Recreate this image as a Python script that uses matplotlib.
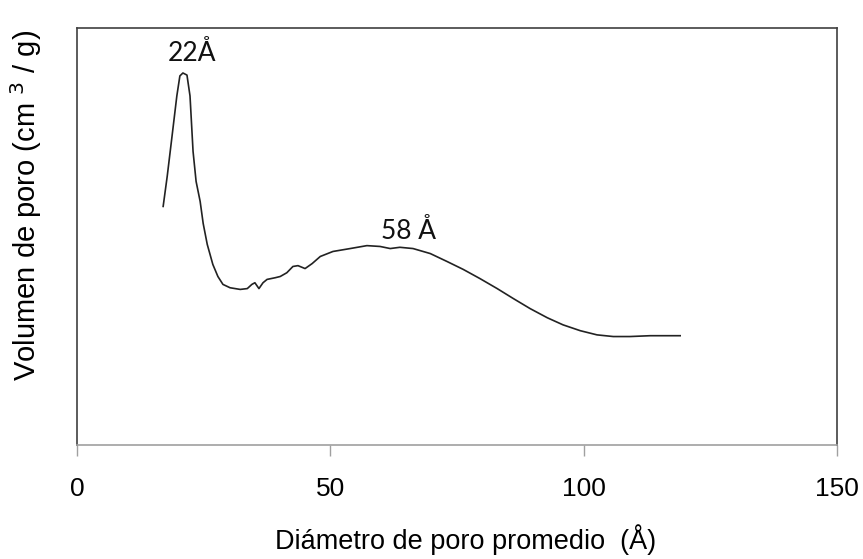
import matplotlib
matplotlib.use("Agg")
import matplotlib.pyplot as plt

# pore diameter (Å) and pore volume (arbitrary units, y axis has no ticks)
diametro = [17.0, 17.8, 18.75, 19.7, 20.3, 20.9, 21.7, 22.3, 22.9, 23.5, 24.3, 24.9,
            25.7, 26.8, 27.8, 28.8, 30.2, 32.2, 33.6, 34.5, 35.1, 35.9, 36.7, 37.5,
            39.1, 40.1, 41.4, 42.6, 43.6, 45.0, 46.4, 48.0, 50.5, 53.9, 57.2, 59.8,
            61.8, 63.7, 66.3, 69.7, 73.0, 76.2, 79.5, 82.9, 86.1, 89.4, 92.8, 95.9,
            99.3, 102.6, 105.8, 109.1, 113.1, 119.0]
volumen = [0.572, 0.644, 0.740, 0.837, 0.885, 0.892, 0.887, 0.837, 0.704, 0.632, 0.584, 0.531,
           0.481, 0.433, 0.404, 0.385, 0.377, 0.373, 0.375, 0.385, 0.389, 0.375, 0.389, 0.397,
           0.401, 0.404, 0.413, 0.428, 0.430, 0.423, 0.435, 0.452, 0.464, 0.471, 0.478, 0.476,
           0.471, 0.474, 0.471, 0.459, 0.440, 0.421, 0.399, 0.375, 0.351, 0.327, 0.305, 0.288,
           0.274, 0.264, 0.260, 0.260, 0.262, 0.262]

picos = ["22Å", "58 Å"]
picos_x = [22.6, 65.5]
picos_y = [0.92, 0.495]

xticks = [0, 50, 100, 150]

fig = plt.figure(figsize=(8.63, 5.59), dpi=100)
ax = fig.add_axes([0.0892, 0.204, 0.881, 0.746])

ax.plot(diametro, volumen, color="#222222", lw=1.2)

for txt, px, py in zip(picos, picos_x, picos_y):
    ax.text(px, py, txt, family="Lato", fontsize=19, ha="center", va="baseline",
            color="#111111")

ax.set_xlim(0, 150)
ax.set_ylim(0, 1)
ax.set_xticks(xticks)
ax.set_xticklabels([str(t) for t in xticks], family="Liberation Sans", fontsize=19)
ax.set_yticks([])
ax.tick_params(axis="x", direction="out", length=8, width=1.0, color="#a0a0a0", pad=15)

for s in ["left", "top", "right"]:
    ax.spines[s].set_color("#404040")
    ax.spines[s].set_linewidth(1.2)
ax.spines["bottom"].set_color("#a0a0a0")
ax.spines["bottom"].set_linewidth(1.2)

ax.set_xlabel("Diámetro de poro promedio  (Å)", family="Liberation Sans", fontsize=19.5)
ax.xaxis.set_label_coords(0.511, -0.19)
ax.set_ylabel("Volumen de poro (cm $^{3}$ / g)", family="Liberation Sans", fontsize=21)
ax.yaxis.set_label_coords(-0.043, 0.575)

fig.savefig("out.png", dpi=100)
